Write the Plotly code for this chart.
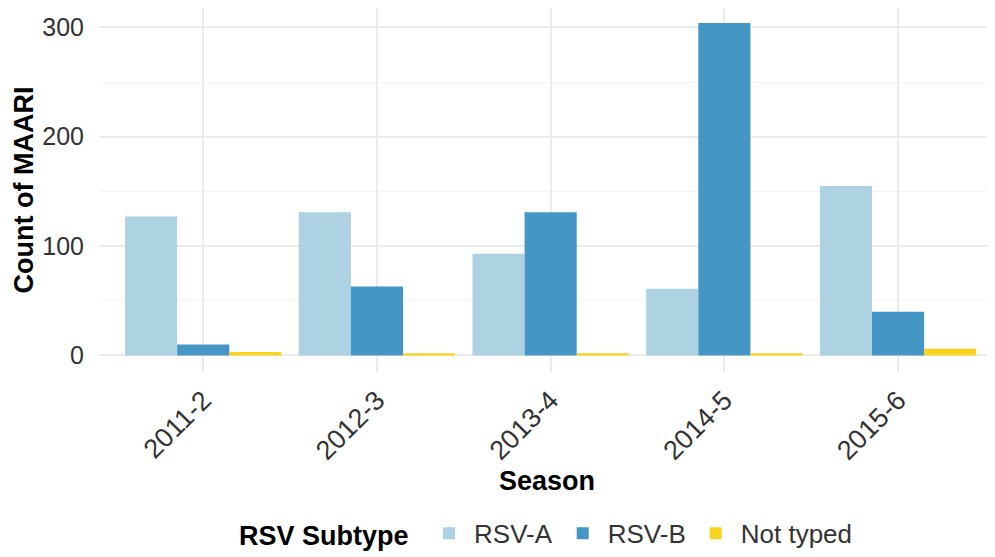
import plotly.graph_objects as go

seasons = ["2011-2", "2012-3", "2013-4", "2014-5", "2015-6"]
rsv_a = [127, 131, 93, 61, 155]
rsv_b = [10, 63, 131, 304, 40]
not_typed = [3, 2, 2, 2, 6]

series = [("RSV-A", rsv_a, "#ADD2E2"), ("RSV-B", rsv_b, "#4496C4"), ("Not typed", not_typed, "#F9D31F")]

fig = go.Figure()
for name, vals, col in series:
    fig.add_trace(go.Bar(x=seasons, y=vals, name=name, marker=dict(color=col, line=dict(width=0))))

font = "Liberation Sans, Arial, sans-serif"
fig.update_layout(
    width=987, height=549,
    barmode="group", bargap=0.1, bargroupgap=0,
    plot_bgcolor="white", paper_bgcolor="white",
    margin=dict(l=91, r=0, t=0, b=181),
    font=dict(family=font, size=25, color="#1a1a1a"),
    xaxis=dict(
        type="category", range=[-0.6, 4.558], tickangle=-45, showgrid=True, gridcolor="#ebebeb", gridwidth=1.5,
        tickfont=dict(size=27, color="#333333"), ticks="", zeroline=False, automargin=False,
        ticklabelstandoff=6,
        title=dict(text="<b>Season</b>", font=dict(size=27, color="#000"), standoff=0),
    ),
    yaxis=dict(
        range=[-15.2, 317.7], tickvals=[0, 100, 200, 300], showgrid=True, gridcolor="#ebebeb", gridwidth=1.5,
        minor=dict(tickvals=[50, 150, 250], showgrid=True, gridcolor="#f3f3f3", gridwidth=1),
        tickfont=dict(size=25, color="#333333"), ticks="", zeroline=False, automargin=False,
        ticklabelstandoff=14,
        title=dict(text="<b>Count of MAARI</b>", font=dict(size=27, color="#000"), standoff=0),
    ),
    legend=dict(
        orientation="h", x=0.154, xanchor="left", y=-0.443, yanchor="middle",
        title=dict(text="<b>RSV Subtype</b> ", font=dict(size=27, color="#000")),
        font=dict(size=26, color="#333333"), itemwidth=40,
    ),
)
fig.write_html("out.html")
